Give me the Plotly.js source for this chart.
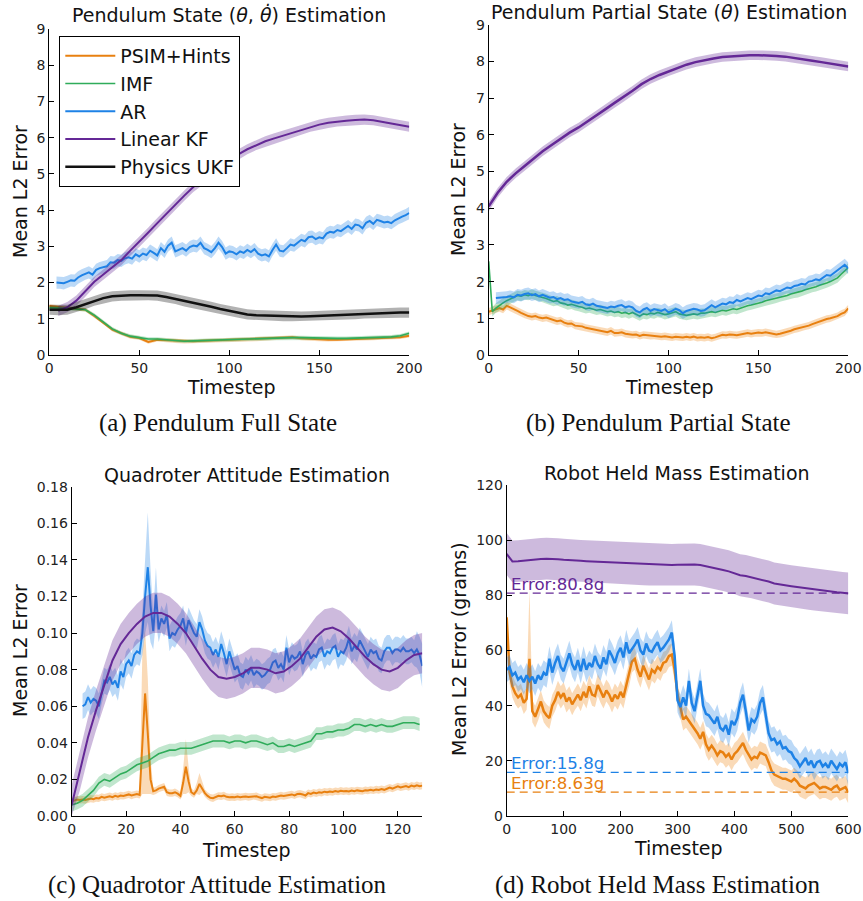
<!DOCTYPE html>
<html><head><meta charset="utf-8">
<script src="https://cdn.plot.ly/plotly-3.0.1.min.js"></script>
<style>html,body{margin:0;padding:0;background:#fff;} #chart{width:863px;height:901px;}</style>
</head><body><div id="chart"></div>
<script>
// ---------------- DATA ----------------
const seriesNames = ['PSIM+Hints', 'IMF', 'AR', 'Linear KF', 'Physics UKF'];

// (a) Pendulum full state
const fullPsim = [1.35,1.32,1.3,1.28,1.25,1.08,0.9,0.7,0.6,0.5,0.47,0.36,0.42,0.41,0.38,0.37,0.38,0.39,0.4,0.4,0.41,0.41,0.42,0.43,0.44,0.46,0.47,0.49,0.46,0.44,0.43,0.42,0.42,0.43,0.44,0.45,0.46,0.47,0.47,0.49,0.53];
const fullImf = [1.3,1.3,1.29,1.27,1.25,1.1,0.92,0.72,0.6,0.52,0.48,0.44,0.44,0.42,0.4,0.38,0.39,0.4,0.4,0.41,0.42,0.42,0.43,0.44,0.45,0.46,0.47,0.48,0.48,0.47,0.47,0.46,0.46,0.46,0.47,0.47,0.48,0.48,0.5,0.53,0.6];
const fullAr = [2.0,2.0,1.98,2.02,2.06,2.05,2.14,2.2,2.25,2.28,2.22,2.35,2.4,2.43,2.45,2.56,2.55,2.62,2.6,2.67,2.7,2.66,2.78,2.72,2.8,2.76,2.88,2.82,2.75,2.95,2.85,3.02,3.1,2.86,2.9,2.95,2.88,2.98,3.02,3.0,3.1,2.95,2.9,2.84,2.95,3.1,2.98,2.8,2.86,2.84,2.78,2.86,2.82,2.9,2.84,2.92,2.8,2.75,2.78,2.72,2.9,3.05,2.88,2.86,2.95,3.05,3.02,3.1,3.18,3.14,3.25,3.27,3.2,3.25,3.22,3.35,3.4,3.38,3.45,3.42,3.5,3.56,3.48,3.6,3.58,3.5,3.65,3.7,3.62,3.73,3.7,3.66,3.68,3.64,3.72,3.78,3.82,3.86,3.92];
const fullLkf = [1.22,1.32,1.5,1.75,2.02,2.22,2.42,2.62,2.88,3.12,3.38,3.64,3.9,4.14,4.4,4.64,4.84,5.02,5.2,5.38,5.54,5.68,5.8,5.9,5.98,6.06,6.14,6.22,6.3,6.36,6.41,6.45,6.47,6.49,6.5,6.48,6.44,6.4,6.35,6.3];
const fullUkf = [1.25,1.24,1.25,1.32,1.4,1.5,1.57,1.62,1.64,1.65,1.65,1.65,1.64,1.6,1.55,1.48,1.43,1.39,1.33,1.27,1.22,1.17,1.12,1.1,1.09,1.08,1.07,1.07,1.06,1.07,1.08,1.09,1.1,1.12,1.13,1.15,1.16,1.17,1.17,1.17,1.17];
const fullBands = [0.05, 0.05, 0.17, 0.14, 0.14];

// (b) Pendulum partial state
const partPsim = [1.18,1.22,1.25,1.28,1.24,1.34,1.3,1.24,1.2,1.15,1.1,1.06,1.04,1.06,1.02,1.0,1.02,0.98,0.95,0.92,0.94,0.88,0.85,0.86,0.8,0.8,0.78,0.74,0.72,0.7,0.68,0.66,0.64,0.62,0.66,0.6,0.6,0.62,0.58,0.56,0.55,0.56,0.52,0.55,0.54,0.52,0.53,0.52,0.5,0.51,0.5,0.48,0.5,0.49,0.48,0.5,0.48,0.5,0.47,0.48,0.47,0.49,0.46,0.48,0.52,0.55,0.54,0.56,0.55,0.54,0.56,0.58,0.6,0.58,0.6,0.61,0.6,0.62,0.6,0.58,0.56,0.58,0.6,0.64,0.66,0.7,0.72,0.74,0.78,0.8,0.84,0.88,0.9,0.94,0.98,1.0,1.02,1.06,1.12,1.16,1.27];
const partImf = [2.55,1.18,1.28,1.36,1.42,1.48,1.52,1.58,1.62,1.6,1.64,1.62,1.66,1.62,1.6,1.58,1.54,1.5,1.46,1.48,1.42,1.4,1.36,1.38,1.34,1.32,1.3,1.26,1.28,1.24,1.22,1.24,1.2,1.18,1.2,1.16,1.18,1.14,1.16,1.12,1.16,1.1,1.06,1.12,1.1,1.14,1.12,1.16,1.14,1.1,1.12,1.15,1.18,1.12,1.1,1.08,1.1,1.12,1.1,1.14,1.14,1.16,1.18,1.16,1.2,1.22,1.2,1.24,1.26,1.24,1.28,1.3,1.34,1.36,1.38,1.42,1.44,1.48,1.5,1.52,1.55,1.58,1.6,1.62,1.66,1.68,1.7,1.74,1.78,1.8,1.84,1.86,1.9,1.92,1.96,2.0,2.04,2.1,2.2,2.3,2.38];
const partAr = [1.55,1.56,1.55,1.58,1.6,1.57,1.64,1.62,1.66,1.68,1.63,1.66,1.6,1.64,1.6,1.56,1.58,1.52,1.55,1.5,1.52,1.46,1.44,1.42,1.45,1.38,1.36,1.4,1.34,1.32,1.3,1.28,1.32,1.3,1.34,1.36,1.3,1.33,1.3,1.2,1.16,1.24,1.28,1.2,1.25,1.22,1.2,1.25,1.16,1.2,1.26,1.22,1.14,1.2,1.22,1.26,1.24,1.2,1.22,1.3,1.36,1.3,1.36,1.4,1.38,1.44,1.42,1.5,1.46,1.5,1.55,1.52,1.58,1.62,1.6,1.68,1.66,1.72,1.76,1.74,1.8,1.84,1.82,1.88,1.9,1.94,1.92,2.0,2.02,2.06,2.04,2.12,2.18,2.16,2.24,2.3,2.38,2.46,2.36];
const partLkf = [4.05,4.42,4.72,4.95,5.15,5.36,5.55,5.72,5.9,6.06,6.2,6.36,6.53,6.7,6.87,7.03,7.2,7.38,7.52,7.63,7.73,7.83,7.91,7.98,8.04,8.08,8.12,8.14,8.16,8.17,8.17,8.17,8.15,8.13,8.1,8.06,8.02,7.98,7.94,7.9,7.86];
const partBands = [0.1, 0.13, 0.16, 0.13];

// (c) Quadrotor attitude
const quadPsim = [0.008,0.0085,0.009,0.0088,0.009,0.0087,0.009,0.0095,0.0092,0.0098,0.0096,0.0105,0.01,0.0104,0.0108,0.0103,0.011,0.0106,0.0112,0.011,0.0115,0.0118,0.0112,0.0117,0.012,0.0115,0.04,0.067,0.045,0.02,0.0135,0.014,0.015,0.0155,0.016,0.013,0.0125,0.0125,0.013,0.0122,0.011,0.018,0.027,0.019,0.013,0.012,0.014,0.0175,0.015,0.0125,0.011,0.01,0.0097,0.0105,0.011,0.0108,0.0112,0.0105,0.0102,0.0104,0.0102,0.0106,0.0103,0.0105,0.0107,0.0104,0.0106,0.011,0.0108,0.0102,0.0098,0.0105,0.0103,0.01,0.0106,0.0104,0.0108,0.0112,0.0109,0.011,0.0115,0.0118,0.0113,0.012,0.0122,0.0118,0.0112,0.0125,0.0121,0.0128,0.0124,0.013,0.0127,0.0133,0.013,0.0134,0.0131,0.0136,0.0133,0.0138,0.0135,0.0137,0.0134,0.0139,0.0136,0.014,0.0138,0.0136,0.0141,0.0139,0.0143,0.014,0.0145,0.0142,0.0147,0.0143,0.0149,0.0155,0.015,0.0158,0.0162,0.0156,0.016,0.0164,0.0158,0.0166,0.0162,0.0168,0.0163,0.0166];
const quadPsimSpikeUp = {26:0.05, 27:0.035, 28:0.03, 29:0.012, 41:0.008, 42:0.015, 43:0.008, 46:0.004, 47:0.006, 48:0.004};
const quadPsimSpikeDn = {26:0.028, 27:0.055, 28:0.033, 29:0.008, 41:0.006, 42:0.015, 43:0.006, 47:0.006};
const quadImf = [0.006,0.007,0.0085,0.011,0.014,0.018,0.02,0.019,0.021,0.023,0.024,0.026,0.028,0.029,0.03,0.032,0.034,0.035,0.036,0.036,0.037,0.037,0.037,0.038,0.039,0.04,0.041,0.041,0.041,0.04,0.041,0.041,0.04,0.041,0.041,0.04,0.039,0.04,0.038,0.038,0.039,0.038,0.039,0.04,0.041,0.045,0.045,0.046,0.046,0.047,0.047,0.048,0.05,0.05,0.049,0.05,0.049,0.05,0.049,0.049,0.05,0.051,0.051,0.051,0.05];
const quadAr = [0.06,0.061,0.065,0.062,0.064,0.063,0.06,0.068,0.074,0.073,0.076,0.072,0.074,0.07,0.079,0.076,0.083,0.085,0.082,0.088,0.09,0.089,0.1,0.12,0.136,0.115,0.101,0.121,0.102,0.108,0.105,0.11,0.097,0.1,0.099,0.102,0.104,0.108,0.1,0.107,0.103,0.1,0.098,0.106,0.102,0.096,0.093,0.092,0.088,0.091,0.087,0.094,0.089,0.083,0.09,0.085,0.08,0.082,0.077,0.076,0.08,0.078,0.081,0.077,0.079,0.078,0.076,0.077,0.079,0.08,0.084,0.085,0.081,0.083,0.08,0.092,0.084,0.088,0.086,0.087,0.09,0.083,0.088,0.09,0.086,0.088,0.087,0.091,0.092,0.087,0.09,0.089,0.092,0.093,0.087,0.09,0.089,0.092,0.097,0.09,0.093,0.091,0.096,0.093,0.09,0.087,0.091,0.089,0.09,0.086,0.085,0.09,0.092,0.092,0.089,0.091,0.091,0.09,0.092,0.09,0.09,0.091,0.089,0.091,0.088,0.082];
const quadArSpike = {26:0.012, 27:0.02, 28:0.03, 29:0.02, 30:0.01, 31:0.015, 127:0.01, 128:0.01, 129:0.012};
const quadLkf = [0.006,0.025,0.043,0.058,0.072,0.085,0.094,0.1,0.105,0.109,0.111,0.111,0.109,0.105,0.1,0.093,0.086,0.08,0.076,0.075,0.076,0.078,0.081,0.081,0.08,0.078,0.079,0.082,0.086,0.092,0.098,0.102,0.103,0.101,0.097,0.092,0.087,0.083,0.08,0.079,0.081,0.085,0.088,0.089];
const quadBands = [0.002, 0.0035, 0.007, 0.011];

// (d) Robot held mass
const massPsim = [72,52,47,44.5,43,44,41,42.5,57,38,36,38.5,41.5,38,36.5,35.5,40,42,45,43,44.5,41.5,43,40.5,42.5,44,42,45,43,47,44,43.5,47.5,45,43,45.5,44,41.5,44,42.5,45,43,47.5,51,56,57,53,50.5,54.5,52,49.5,53,52,54,53,55.5,56,58,58.5,53,44,39.5,35,36,34.5,33,31.5,30,28,30.5,26,24,25.5,24,22,23.5,23,21.5,22.5,20.5,22.5,23.5,25,26.5,24,22,20.5,21.5,21,23,22.5,22,19.5,16.5,15,14.5,14,13.5,13.5,13,12.5,13.5,12.5,11,10.5,10,11,11.5,12,11,10,10.5,10.5,10,9.5,10.5,11,9.5,10,10.5,8.5];
const massPsimSpikeUp = {40: 25};
const massAr = [53,54,51,52,49.5,50.5,48.5,51,49,50.5,48,51,49.5,52,51,57,52,55.5,58,54,52.5,56,59,55,53,56.5,52.5,57,53,55.5,54,58,55,53.5,57.5,55,60,58,55.5,59,61,57.5,63,59,60.5,62,64,60,58.5,62.5,60,59.5,61.5,63,60,61,62.5,64,66.5,58,42,39.5,43,40,49,41,38,44,49,40,37,36.5,35,33.5,36,32,31,33,29.5,34.5,33,35.5,41,44,38,31,35,34,36,41,43,37,30,27.5,28,26,27,24.5,25,23.5,23,21,20,18,19.5,21,18.5,20,17.5,19.5,20,18,19,17.5,20,18.5,17,19,18,19.5,15.5];
const massLkf = [95,92.3,92.4,92.6,93.0,93.1,93.2,93.3,93.3,93.1,92.9,92.7,92.6,92.5,92.4,92.3,92.2,92.1,92.0,91.9,91.8,91.6,91.5,91.4,91.3,91.2,91.1,91.0,91.0,91.0,91.1,91.2,91.2,91.2,91.0,90.6,90.1,89.6,89.2,88.7,88.1,87.3,87.0,86.5,86.0,85.6,85.0,84.3,83.9,83.6,83.3,83.0,82.7,82.4,82.1,81.8,81.6,81.3,81.1,80.9,80.7];
const massBands = [4, 4.5, 7.6];
const massFinalErrors = [8.63, 15.8, 80.8];   // PSIM+Hints, AR, Linear KF

// ---------------- STYLE ----------------
const COL = {psim:'rgb(232,128,16)', imf:'rgb(47,172,90)', ar:'rgb(30,130,230)', lkf:'rgb(100,40,150)', ukf:'rgb(17,17,17)'};
const FILL = {psim:'rgba(240,140,30,0.32)', imf:'rgba(47,172,90,0.3)', ar:'rgba(30,130,230,0.3)', lkf:'rgba(100,40,150,0.32)', ukf:'rgba(0,0,0,0.3)'};

function steps(start, step, n){ return Array.from({length:n}, (_, i) => +(start + i*step).toFixed(6)); }
const traces = [];
function addSeries(o){
  const t = steps(o.start, o.step, o.y.length);
  const wUp = t.map(tt => (o.up && o.up[tt] !== undefined) ? o.up[tt] : o.band);
  const wDn = t.map(tt => (o.dn && o.dn[tt] !== undefined) ? o.dn[tt] : o.band);
  const upper = o.y.map((v,i) => v + wUp[i]);
  const lower = o.y.map((v,i) => Math.max(0, v - wDn[i]));
  traces.push({x: t.concat(t.slice().reverse()), y: upper.concat(lower.slice().reverse()),
    xaxis:o.xa, yaxis:o.ya, type:'scatter', mode:'lines', fill:'toself', fillcolor:o.fill,
    line:{width:0, color:o.fill}, hoverinfo:'skip', showlegend:false});
  traces.push({x:t, y:o.y, xaxis:o.xa, yaxis:o.ya, type:'scatter', mode:'lines', name:o.name,
    line:{color:o.color, width:o.width}, showlegend:!!o.legend, legendgroup:o.name});
}

// (a)
addSeries({xa:'x', ya:'y', start:0, step:5, y:fullPsim, band:fullBands[0], color:COL.psim, fill:FILL.psim, width:2, name:seriesNames[0], legend:true});
addSeries({xa:'x', ya:'y', start:0, step:5, y:fullImf, band:fullBands[1], color:COL.imf, fill:FILL.imf, width:1.6, name:seriesNames[1], legend:true});
addSeries({xa:'x', ya:'y', start:4, step:2, y:fullAr, band:fullBands[2], color:COL.ar, fill:FILL.ar, width:2, name:seriesNames[2], legend:true});
addSeries({xa:'x', ya:'y', start:5, step:5, y:fullLkf, band:fullBands[3], color:COL.lkf, fill:FILL.lkf, width:2, name:seriesNames[3], legend:true});
addSeries({xa:'x', ya:'y', start:0, step:5, y:fullUkf, band:fullBands[4], color:COL.ukf, fill:FILL.ukf, width:2.5, name:seriesNames[4], legend:true});
// (b)
addSeries({xa:'x2', ya:'y2', start:0, step:2, y:partPsim, band:partBands[0], color:COL.psim, fill:FILL.psim, width:2, name:seriesNames[0]});
addSeries({xa:'x2', ya:'y2', start:0, step:2, y:partImf, band:partBands[1], color:COL.imf, fill:FILL.imf, width:1.6, name:seriesNames[1]});
addSeries({xa:'x2', ya:'y2', start:4, step:2, y:partAr, band:partBands[2], color:COL.ar, fill:FILL.ar, width:2, name:seriesNames[2]});
addSeries({xa:'x2', ya:'y2', start:0, step:5, y:partLkf, band:partBands[3], color:COL.lkf, fill:FILL.lkf, width:2.5, name:seriesNames[3]});
// (c)
addSeries({xa:'x3', ya:'y3', start:0, step:1, y:quadPsim, band:quadBands[0], up:quadPsimSpikeUp, dn:quadPsimSpikeDn, color:COL.psim, fill:FILL.psim, width:2, name:seriesNames[0]});
addSeries({xa:'x3', ya:'y3', start:0, step:2, y:quadImf, band:quadBands[1], color:COL.imf, fill:FILL.imf, width:1.6, name:seriesNames[1]});
addSeries({xa:'x3', ya:'y3', start:4, step:1, y:quadAr, band:quadBands[2], up:quadArSpike, dn:quadArSpike, color:COL.ar, fill:FILL.ar, width:2, name:seriesNames[2]});
addSeries({xa:'x3', ya:'y3', start:0, step:3, y:quadLkf, band:quadBands[3], color:COL.lkf, fill:FILL.lkf, width:2, name:seriesNames[3]});
// (d)
addSeries({xa:'x4', ya:'y4', start:0, step:5, y:massPsim, band:massBands[0], up:massPsimSpikeUp, color:COL.psim, fill:FILL.psim, width:2.5, name:seriesNames[0]});
addSeries({xa:'x4', ya:'y4', start:0, step:5, y:massAr, band:massBands[1], color:COL.ar, fill:FILL.ar, width:2.5, name:seriesNames[2]});
addSeries({xa:'x4', ya:'y4', start:0, step:10, y:massLkf, band:massBands[2], color:COL.lkf, fill:FILL.lkf, width:2, name:seriesNames[3]});

const errCols = [COL.psim, COL.ar, COL.lkf];
const massEnd = (massAr.length - 1) * 5;
massFinalErrors.forEach((v, i) => {
  traces.push({x:[0, massEnd], y:[v, v], xaxis:'x4', yaxis:'y4', type:'scatter', mode:'lines',
    line:{color:errCols[i], width:1.3, dash:'8px,5px'}, hoverinfo:'skip', showlegend:false});
});

// ---------------- LAYOUT ----------------
const W = 863, H = 901;
const px = v => v / W, py = v => (H - v) / H;
const tickFont = {family:'DejaVu Sans', size:14, color:'#222'};
function ax(extra){
  return Object.assign({showline:true, linecolor:'#000', linewidth:1, ticks:'inside', ticklen:5, tickwidth:1,
    tickcolor:'#000', showgrid:false, zeroline:false, mirror:false, tickfont:tickFont, fixedrange:true}, extra);
}
const F19 = {family:'DejaVu Sans', size:19, color:'#111'};
const CAP = {family:'Liberation Serif', size:25, color:'#111'};
const ann = [];
function txt(x, y, text, font, extra){ ann.push(Object.assign({xref:'paper', yref:'paper', x:px(x), y:py(y), text, showarrow:false, font, xanchor:'center', yanchor:'middle'}, extra || {})); }

const thetaI = '<i>θ</i>';
txt(229, 15, 'Pendulum State (' + thetaI + ', <i>θ̇</i>) Estimation', F19);
txt(669, 12, 'Pendulum Partial State (' + thetaI + ') Estimation', F19);
txt(247, 475, 'Quadroter Attitude Estimation', F19);
txt(677, 473, 'Robot Held Mass Estimation', F19);
txt(231, 387, 'Timestep', F19); txt(669, 387, 'Timestep', F19);
txt(247, 850, 'Timestep', F19); txt(678, 848, 'Timestep', F19);
txt(20, 192, 'Mean L2 Error', F19, {textangle:-90});
txt(458, 190, 'Mean L2 Error', F19, {textangle:-90});
txt(20, 651, 'Mean L2 Error', F19, {textangle:-90});
txt(459, 649, 'Mean L2 Error (grams)', F19, {textangle:-90});
txt(218, 423, '(a) Pendulum Full State', CAP);
txt(658, 423, '(b) Pendulum Partial State', CAP);
txt(217, 885, '(c) Quadrotor Attitude Estimation', CAP);
txt(657, 885, '(d) Robot Held Mass Estimation', CAP);
massFinalErrors.forEach((v, i) => {
  ann.push({xref:'x4', yref:'y4', x:0, y:v, text:'Error:' + v + 'g', showarrow:false, xanchor:'left', yanchor:'middle',
    xshift:2, yshift:9, font:{family:'DejaVu Sans', size:16.6, color:errCols[i]}});
});

const layout = {
  width:W, height:H, autosize:false, margin:{l:0, r:0, t:0, b:0}, paper_bgcolor:'#fff', plot_bgcolor:'rgba(0,0,0,0)',
  showlegend:true,
  legend:{x:px(59.3), y:py(36), xanchor:'left', yanchor:'top', bgcolor:'#fff', bordercolor:'#000', borderwidth:1,
    font:{family:'DejaVu Sans', size:19, color:'#111'}, tracegroupgap:0, itemwidth:50},
  xaxis: ax({domain:[px(49.3), px(409.3)], range:[0,200], dtick:50, anchor:'y'}),
  yaxis: ax({domain:[py(355), py(29)], range:[0,9], dtick:1, anchor:'x'}),
  xaxis2: ax({domain:[px(488.7), px(848.3)], range:[0,200], dtick:50, anchor:'y2'}),
  yaxis2: ax({domain:[py(355), py(24.7)], range:[0,9], dtick:1, anchor:'x2'}),
  xaxis3: ax({domain:[px(71.7), px(422.3)], range:[0,129], dtick:20, anchor:'y3'}),
  yaxis3: ax({domain:[py(816), py(486.7)], range:[0,0.18], dtick:0.02, tickformat:'.2f', anchor:'x3'}),
  xaxis4: ax({domain:[px(506.7), px(848.3)], range:[0,600], dtick:100, anchor:'y4'}),
  yaxis4: ax({domain:[py(816), py(485)], range:[0,120], dtick:20, anchor:'x4'}),
  annotations: ann
};
Plotly.newPlot('chart', traces, layout, {staticPlot:true, displayModeBar:false});
</script></body></html>
